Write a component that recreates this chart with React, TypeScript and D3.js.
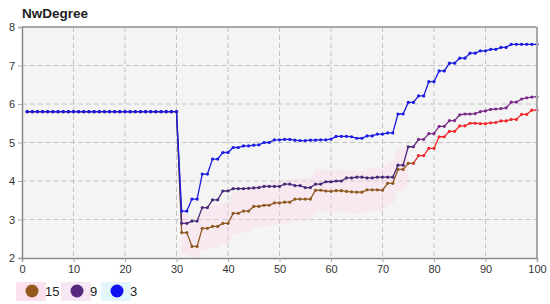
import React, { useRef, useEffect } from 'react';
import * as d3 from 'd3';

// x runs 1..100, one value per step
const seriesNames = ['15', '9', '3'];

const s15 = [
  5.8, 5.8, 5.8, 5.8, 5.8, 5.8, 5.8, 5.8, 5.8, 5.8,
  5.8, 5.8, 5.8, 5.8, 5.8, 5.8, 5.8, 5.8, 5.8, 5.8,
  5.8, 5.8, 5.8, 5.8, 5.8, 5.8, 5.8, 5.8, 5.8, 5.8,
  2.66, 2.66, 2.3, 2.3, 2.77, 2.77, 2.82, 2.82, 2.9, 2.9,
  3.16, 3.16, 3.22, 3.22, 3.34, 3.34, 3.37, 3.37, 3.43, 3.43,
  3.45, 3.45, 3.53, 3.53, 3.53, 3.53, 3.76, 3.76, 3.74, 3.73,
  3.75, 3.75, 3.73, 3.72, 3.71, 3.71, 3.77, 3.77, 3.77, 3.76,
  3.94, 3.94, 4.3, 4.3, 4.46, 4.46, 4.66, 4.66, 4.85, 4.85,
  5.15, 5.15, 5.29, 5.29, 5.43, 5.43, 5.5, 5.5, 5.49, 5.49,
  5.51, 5.52, 5.56, 5.56, 5.6, 5.6, 5.73, 5.73, 5.84, 5.84,
];

const s9 = [
  5.8, 5.8, 5.8, 5.8, 5.8, 5.8, 5.8, 5.8, 5.8, 5.8,
  5.8, 5.8, 5.8, 5.8, 5.8, 5.8, 5.8, 5.8, 5.8, 5.8,
  5.8, 5.8, 5.8, 5.8, 5.8, 5.8, 5.8, 5.8, 5.8, 5.8,
  2.9, 2.9, 2.96, 2.96, 3.31, 3.31, 3.51, 3.51, 3.74, 3.74,
  3.8, 3.8, 3.8, 3.81, 3.82, 3.83, 3.86, 3.86, 3.86, 3.86,
  3.92, 3.92, 3.88, 3.88, 3.83, 3.83, 3.92, 3.92, 3.98, 3.98,
  4.0, 4.0, 4.08, 4.08, 4.1, 4.1, 4.08, 4.08, 4.1, 4.1,
  4.1, 4.1, 4.41, 4.41, 4.89, 4.89, 5.08, 5.08, 5.23, 5.23,
  5.42, 5.42, 5.57, 5.57, 5.72, 5.74, 5.74, 5.75, 5.8, 5.82,
  5.86, 5.87, 5.88, 5.9, 6.05, 6.05, 6.13, 6.16, 6.18, 6.19,
];

const s3 = [
  5.8, 5.8, 5.8, 5.8, 5.8, 5.8, 5.8, 5.8, 5.8, 5.8,
  5.8, 5.8, 5.8, 5.8, 5.8, 5.8, 5.8, 5.8, 5.8, 5.8,
  5.8, 5.8, 5.8, 5.8, 5.8, 5.8, 5.8, 5.8, 5.8, 5.8,
  3.22, 3.22, 3.53, 3.53, 4.18, 4.18, 4.57, 4.57, 4.74, 4.74,
  4.87, 4.87, 4.91, 4.91, 4.93, 4.94, 5.0, 5.0, 5.07, 5.07,
  5.08, 5.08, 5.06, 5.05, 5.05, 5.06, 5.06, 5.07, 5.07, 5.09,
  5.16, 5.16, 5.16, 5.15, 5.11, 5.11, 5.17, 5.17, 5.22, 5.22,
  5.25, 5.25, 5.74, 5.74, 6.04, 6.04, 6.21, 6.21, 6.58, 6.58,
  6.86, 6.86, 7.06, 7.06, 7.19, 7.19, 7.32, 7.32, 7.38, 7.38,
  7.42, 7.42, 7.47, 7.47, 7.55, 7.55, 7.55, 7.55, 7.55, 7.55,
];

const xTicks = [0, 10, 20, 30, 40, 50, 60, 70, 80, 90, 100];
const yTicks = [2, 3, 4, 5, 6, 7, 8];

// shaded stretch around series 15
const bandRange = [31, 75];
const bandHalf = 0.55;

function App() {
  const ref = useRef<SVGSVGElement>(null);

  useEffect(() => {
    const W = 550, H = 304;
    const margin = { top: 27, right: 13, bottom: 46, left: 22 };
    const width = W - margin.left - margin.right;
    const height = H - margin.top - margin.bottom;

    const svg = d3.select(ref.current);
    svg.selectAll('*').remove();
    svg.attr('width', W).attr('height', H);

    const font = '"Liberation Sans", Arial, Helvetica, sans-serif';

    svg.append('text')
      .attr('x', 22).attr('y', 18)
      .attr('font-family', font).attr('font-size', 13.5).attr('font-weight', 'bold')
      .attr('fill', '#222')
      .text('NwDegree');

    const g = svg.append('g').attr('transform', `translate(${margin.left},${margin.top})`);

    const x = d3.scaleLinear().domain([0, 100]).range([0, width]);
    const y = d3.scaleLinear().domain([2, 8]).range([height, 0]);

    g.append('rect').attr('width', width).attr('height', height).attr('fill', '#f4f4f4');

    // grid
    g.append('g').selectAll('line').data(yTicks.slice(1, -1)).enter().append('line')
      .attr('x1', 0).attr('x2', width)
      .attr('y1', d => y(d)).attr('y2', d => y(d))
      .attr('stroke', '#c4c4c4').attr('stroke-dasharray', '5,3');
    g.append('g').selectAll('line').data(xTicks.slice(1, -1)).enter().append('line')
      .attr('y1', 0).attr('y2', height)
      .attr('x1', d => x(d)).attr('x2', d => x(d))
      .attr('stroke', '#c4c4c4').attr('stroke-dasharray', '5,3');

    const data = [s15, s9, s3].map((vals, k) => ({
      name: seriesNames[k],
      points: vals.map((v, i) => ({ x: i + 1, y: v })),
    }));

    // faint pink band around series 15
    const band = data[0].points.filter(p => p.x >= bandRange[0] && p.x <= bandRange[1]);
    g.append('path')
      .attr('d', d3.area<{ x: number; y: number }>()
        .x(d => x(d.x))
        .y0(d => y(Math.max(2, d.y - bandHalf)))
        .y1(d => y(d.y + bandHalf))(band) as string)
      .attr('fill', '#ffd3e6').attr('opacity', 0.32);

    const defs = svg.append('defs');
    const grad = (id: string, c1: string, c2: string, at: number) => {
      const lg = defs.append('linearGradient').attr('id', id)
        .attr('gradientUnits', 'userSpaceOnUse')
        .attr('x1', x(0)).attr('x2', x(100)).attr('y1', 0).attr('y2', 0);
      lg.append('stop').attr('offset', `${at - 1}%`).attr('stop-color', c1);
      lg.append('stop').attr('offset', `${at + 1}%`).attr('stop-color', c2);
    };
    grad('g15', '#8e5a22', '#ee2a2e', 76);
    grad('g9', '#4a2a78', '#7a2a88', 76);
    grad('g3', '#1a1ae0', '#1a1ae0', 50);

    const line = d3.line<{ x: number; y: number }>().x(d => x(d.x)).y(d => y(d.y));
    const ids = ['g15', 'g9', 'g3'];

    data.forEach((s, k) => {
      g.append('path')
        .attr('d', line(s.points) as string)
        .attr('fill', 'none')
        .attr('stroke', `url(#${ids[k]})`)
        .attr('stroke-width', 1.3);
      g.append('g').selectAll('circle').data(s.points).enter().append('circle')
        .attr('cx', d => x(d.x)).attr('cy', d => y(d.y)).attr('r', 1.6)
        .attr('fill', `url(#${ids[k]})`);
    });

    // frame
    g.append('line').attr('x1', 0).attr('x2', width).attr('y1', 0).attr('y2', 0)
      .attr('stroke', '#a8a8a8').attr('stroke-width', 2);
    g.append('line').attr('x1', width).attr('x2', width).attr('y1', 0).attr('y2', height)
      .attr('stroke', '#a8a8a8').attr('stroke-width', 2);

    const xAxis = g.append('g').attr('transform', `translate(0,${height})`)
      .call(d3.axisBottom(x).tickValues(xTicks).tickSize(4).tickFormat(d3.format('d')));
    const yAxis = g.append('g')
      .call(d3.axisLeft(y).tickValues(yTicks).tickSize(4).tickFormat(d3.format('d')));
    [xAxis, yAxis].forEach(a => {
      a.select('.domain').attr('stroke', '#8a8a8a').attr('stroke-width', 1.5);
      a.selectAll('.tick line').attr('stroke', '#aaa');
      a.selectAll('.tick text').attr('font-family', font).attr('font-size', 11).attr('fill', '#333');
    });
    yAxis.selectAll('.tick text').attr('x', -7);

    // legend
    const legendColors = ['#94591f', '#55287e', '#1010f0'];
    const legendBg = ['#fbe0ee', '#f7e6f3', '#e3f7fa'];
    const lx = [32, 77, 117];
    const lg = svg.append('g');
    seriesNames.forEach((n, k) => {
      lg.append('rect').attr('x', lx[k] - 16).attr('y', 282).attr('width', 30).attr('height', 19)
        .attr('fill', legendBg[k]);
      lg.append('circle').attr('cx', lx[k]).attr('cy', 291).attr('r', 6.5).attr('fill', legendColors[k]);
      lg.append('text').attr('x', lx[k] + 13).attr('y', 296)
        .attr('font-family', font).attr('font-size', 13).attr('fill', '#222').text(n);
    });
  }, []);

  return <svg ref={ref} style={{ position: 'absolute', left: 0, top: 0 }}></svg>;
}

export default App;
